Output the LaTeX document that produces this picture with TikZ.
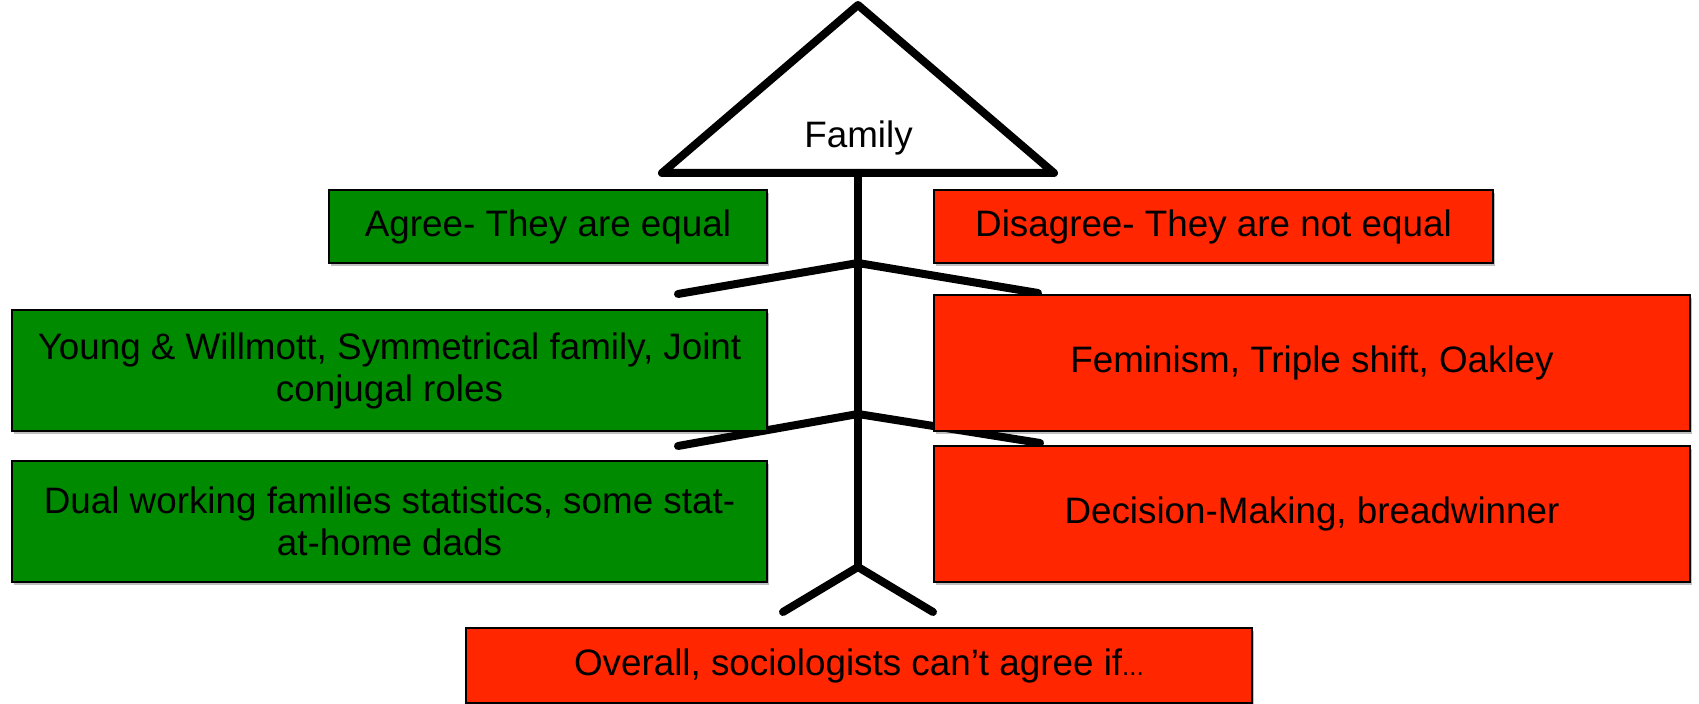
\documentclass[tikz,border=0pt]{standalone}
\usepackage{fontspec}
\setmainfont{Liberation Sans}
\usetikzlibrary{shadows}
\definecolor{agreegreen}{RGB}{0,138,0}
\definecolor{disred}{RGB}{255,38,0}
\begin{document}
\begin{tikzpicture}[x=0.5pt,y=-0.5pt,
  box/.style={draw=black, line width=1pt, inner sep=0pt, align=center,
    font=\fontsize{18.4}{21}\selectfont,
    drop shadow={shadow xshift=1pt, shadow yshift=-1.5pt, opacity=0.25, fill=black}},
  gbox/.style={box, fill=agreegreen},
  rbox/.style={box, fill=disred},
  stick/.style={line width=4pt, line cap=round, line join=round},
  lbl/.style={font=\fontsize{18.4}{21}\selectfont, inner sep=0pt}]
\useasboundingbox (0,0) rectangle (1699,704);

% head (triangle)
\coordinate (apex) at (858,5);
\coordinate (bl) at (662,173);
\coordinate (br) at (1054,173);
\coordinate (neck) at (858,173);
\draw[stick] (bl) -- (apex) -- (br) -- cycle;
\node[lbl, anchor=base] (family) at (858.5,148) {Family};

% spine and branches
\coordinate (j1) at (858,263);
\coordinate (j2) at (858,414);
\coordinate (hip) at (858,567);
\coordinate (l1) at (678,294);
\coordinate (r1) at (1038,293);
\coordinate (l2) at (678,446);
\coordinate (r2) at (1040,443);
\coordinate (lf) at (783,612);
\coordinate (rf) at (933,612);
\draw[stick] (neck) -- (hip);
\draw[stick] (l1) -- (j1) -- (r1);
\draw[stick] (l2) -- (j2) -- (r2);
\draw[stick] (lf) -- (hip) -- (rf);

% boxes
\node[gbox, minimum width=219pt, minimum height=36.5pt] (agree) at (548,226.5) {Agree- They are equal};
\node[rbox, minimum width=279.5pt, minimum height=36.5pt] (disagree) at (1213.5,226.5) {Disagree- They are not equal};
\node[gbox, minimum width=377.5pt, minimum height=60.5pt] (young) at (389.5,370.5) {Young \& Willmott, Symmetrical family, Joint\\conjugal roles};
\node[rbox, minimum width=378pt, minimum height=68pt] (feminism) at (1312,363) {Feminism, Triple shift, Oakley};
\node[gbox, minimum width=377.5pt, minimum height=60.5pt] (dual) at (389.5,521.5) {Dual working families statistics, some stat-\\at-home dads};
\node[rbox, minimum width=378pt, minimum height=68pt] (decision) at (1312,514) {Decision-Making, breadwinner};
\node[rbox, minimum width=393pt, minimum height=37.5pt] (overall) at (859,665.5) {Overall, sociologists can’t agree if{\fontsize{13}{13}\selectfont...}};
\end{tikzpicture}
\end{document}
